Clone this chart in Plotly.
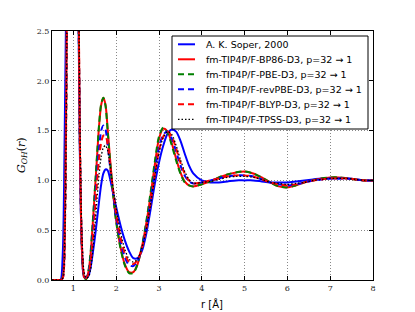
import plotly.graph_objects as go

# ---------------- data ----------------
r = [0.50, 0.55, 0.60, 0.65, 0.70, 0.75, 0.80, 0.85, 0.90, 0.95, 1.00, 1.05, 1.10, 1.15, 1.20, 1.25,
     1.30, 1.35, 1.40, 1.45, 1.50, 1.55, 1.60, 1.65, 1.70, 1.75, 1.80, 1.85, 1.90, 1.95, 2.00,
     2.10, 2.20, 2.30, 2.40, 2.50, 2.60, 2.70, 2.80, 2.90, 3.00, 3.10, 3.20, 3.30, 3.40, 3.50,
     3.60, 3.70, 3.80,
     4.00, 4.20, 4.40, 4.60, 4.80, 5.00, 5.20, 5.40, 5.60, 5.80, 6.00, 6.20, 6.40, 6.60, 6.80,
     7.00, 7.20, 7.40, 7.60, 7.80, 8.00]

soper = [0, 0, 0, 0, 0.0, 0.25, 1.6, 3.5, 5.0, 5.8, 6.0, 5.2, 3.6, 1.3, 0.30, 0.03,
         0.02, 0.04, 0.12, 0.26, 0.42, 0.60, 0.79, 0.96, 1.07, 1.11, 1.10, 1.03, 0.93, 0.83, 0.73,
         0.55, 0.40, 0.29, 0.22, 0.22, 0.29, 0.46, 0.70, 0.96, 1.18, 1.35, 1.47, 1.51, 1.49, 1.40,
         1.27, 1.15, 1.07,
         1.00, 0.98, 0.98, 0.99, 1.00, 1.00, 1.00, 0.99, 0.98, 0.98, 0.98, 0.99, 1.00, 1.01, 1.02,
         1.02, 1.02, 1.02, 1.01, 1.00, 1.00]

bp86 = [0, 0, 0, 0, 0, 0.02, 0.55, 2.9, 6.2, 9.0, 9.8, 8.0, 4.2, 1.4, 0.3, 0.03,
        0.01, 0.08, 0.25, 0.55, 0.88, 1.22, 1.55, 1.76, 1.83, 1.76, 1.52, 1.25, 1.00, 0.78, 0.60,
        0.33, 0.16, 0.08, 0.08, 0.16, 0.33, 0.56, 0.84, 1.15, 1.42, 1.52, 1.49, 1.37, 1.22, 1.08,
        0.99, 0.95, 0.94,
        0.96, 0.99, 1.03, 1.06, 1.08, 1.09, 1.07, 1.03, 0.98, 0.94, 0.93, 0.95, 0.98, 1.00, 1.02,
        1.03, 1.03, 1.02, 1.01, 1.00, 1.00]

pbe = [0, 0, 0, 0, 0, 0.03, 0.6, 2.9, 6.2, 9.0, 9.8, 8.0, 4.2, 1.4, 0.3, 0.03,
       0.01, 0.09, 0.27, 0.57, 0.90, 1.24, 1.56, 1.77, 1.83, 1.75, 1.50, 1.23, 0.98, 0.76, 0.58,
       0.32, 0.15, 0.07, 0.07, 0.16, 0.34, 0.58, 0.87, 1.18, 1.44, 1.53, 1.48, 1.35, 1.20, 1.07,
       0.98, 0.95, 0.94,
       0.96, 0.99, 1.03, 1.06, 1.08, 1.09, 1.07, 1.03, 0.98, 0.94, 0.93, 0.95, 0.98, 1.00, 1.02,
       1.03, 1.03, 1.02, 1.01, 1.00, 1.00]

revpbe = [0, 0, 0, 0, 0, 0.02, 0.55, 2.8, 6.0, 8.8, 9.5, 7.8, 4.1, 1.4, 0.32, 0.04,
          0.02, 0.07, 0.20, 0.45, 0.75, 1.05, 1.32, 1.50, 1.55, 1.51, 1.36, 1.16, 0.96, 0.79, 0.63,
          0.39, 0.23, 0.15, 0.14, 0.19, 0.32, 0.52, 0.79, 1.08, 1.33, 1.46, 1.49, 1.42, 1.29, 1.15,
          1.05, 0.99, 0.97,
          0.98, 1.00, 1.02, 1.04, 1.05, 1.05, 1.04, 1.01, 0.98, 0.96, 0.95, 0.96, 0.98, 1.00, 1.01,
          1.02, 1.02, 1.02, 1.01, 1.00, 1.00]

blyp = [0, 0, 0, 0, 0, 0.02, 0.5, 2.7, 6.0, 8.8, 9.6, 8.0, 4.3, 1.5, 0.35, 0.05,
        0.02, 0.06, 0.18, 0.40, 0.68, 0.97, 1.22, 1.38, 1.45, 1.45, 1.36, 1.19, 1.00, 0.83, 0.67,
        0.43, 0.27, 0.18, 0.16, 0.20, 0.32, 0.51, 0.77, 1.05, 1.30, 1.44, 1.49, 1.44, 1.32, 1.18,
        1.07, 1.00, 0.97,
        0.98, 1.00, 1.02, 1.04, 1.05, 1.05, 1.04, 1.01, 0.98, 0.96, 0.95, 0.96, 0.98, 1.00, 1.01,
        1.02, 1.02, 1.02, 1.01, 1.00, 1.00]

tpss = [0, 0, 0, 0, 0, 0.02, 0.45, 2.6, 5.8, 8.6, 9.6, 8.2, 4.6, 1.7, 0.45, 0.08,
        0.02, 0.03, 0.10, 0.28, 0.52, 0.80, 1.06, 1.24, 1.33, 1.35, 1.30, 1.17, 1.01, 0.86, 0.72,
        0.48, 0.31, 0.21, 0.18, 0.21, 0.32, 0.50, 0.75, 1.03, 1.28, 1.43, 1.49, 1.46, 1.35, 1.21,
        1.09, 1.01, 0.97,
        0.98, 0.99, 1.01, 1.03, 1.04, 1.04, 1.03, 1.01, 0.98, 0.97, 0.96, 0.97, 0.98, 1.00, 1.01,
        1.02, 1.02, 1.02, 1.01, 1.00, 1.00]

labels = ["A. K. Soper, 2000",
          "fm-TIP4P/F-BP86-D3, p=32 → 1",
          "fm-TIP4P/F-PBE-D3, p=32 → 1",
          "fm-TIP4P/F-revPBE-D3, p=32 → 1",
          "fm-TIP4P/F-BLYP-D3, p=32 → 1",
          "fm-TIP4P/F-TPSS-D3, p=32 → 1"]
series = [soper, bp86, pbe, revpbe, blyp, tpss]
colors = ["#0000ff", "#ff0000", "#008000", "#0000ff", "#ff0000", "#000000"]
dashes = ["solid", "solid", "6px,4px", "6px,4px", "6px,4px", "1.5px,2px"]
widths = [2, 2, 2, 2, 2, 1.3]

x_ticks = [1, 2, 3, 4, 5, 6, 7, 8]
y_ticks = [0.0, 0.5, 1.0, 1.5, 2.0, 2.5]

# ---------------- figure ----------------
W, H = 415, 312
OFF = 8                      # page body margin offset
L, R, T, B = 44, 50, 23, 40  # plot area = 321 x 249 px
pw, ph = W - L - R, H - T - B

fig = go.Figure()
for ys, lab, c, d, w in zip(series, labels, colors, dashes, widths):
    fig.add_trace(go.Scatter(x=r, y=ys, mode="lines", name=lab, showlegend=False,
                             line=dict(color=c, dash=d, width=w, shape="spline", smoothing=0.8)))


def px_x(p):
    return (p - OFF - L) / pw


def px_y(p):
    return (H - B - (p - OFF)) / ph


shapes = [dict(type="rect", xref="paper", yref="paper",
               x0=px_x(172), x1=px_x(368), y0=px_y(129), y1=px_y(36),
               line=dict(color="black", width=1), fillcolor="white", layer="above")]
annotations = []
for i, (lab, c, d, w) in enumerate(zip(labels, colors, dashes, widths)):
    yc = 44.3 + 15 * i
    shapes.append(dict(type="line", xref="paper", yref="paper",
                       x0=px_x(178), x1=px_x(195), y0=px_y(yc), y1=px_y(yc),
                       line=dict(color=c, dash=d, width=w), layer="above"))
    annotations.append(dict(xref="paper", yref="paper", x=px_x(204), y=px_y(yc),
                            xanchor="left", yanchor="middle", showarrow=False, text=lab,
                            font=dict(family="DejaVu Sans", size=9.5, color="black")))

annotations.append(dict(xref="paper", yref="paper", x=px_x(22), y=px_y(155), xanchor="center",
                        yanchor="middle", showarrow=False, textangle=-90,
                        text="<i>G</i><sub><i>OH</i></sub>(<i>r</i>)",
                        font=dict(family="DejaVu Serif", size=11, color="black")))
annotations.append(dict(xref="paper", yref="paper", x=px_x(212), y=px_y(304), xanchor="center",
                        yanchor="middle", showarrow=False, text="r [Å]",
                        font=dict(family="DejaVu Sans", size=10, color="black")))

fig.update_layout(
    width=W, height=H,
    margin=dict(l=L, r=R, t=T, b=B),
    paper_bgcolor="white", plot_bgcolor="white",
    shapes=shapes, annotations=annotations,
    xaxis=dict(range=[0.5, 8], tickvals=x_ticks, ticktext=[str(v) for v in x_ticks],
               showgrid=True, gridcolor="#888888", griddash="1px,2px", gridwidth=0.8,
               zeroline=False, showline=True, linecolor="black", linewidth=1, mirror="allticks",
               ticks="inside", ticklen=4, tickcolor="black",
               tickfont=dict(family="DejaVu Serif", size=8, color="#222")),
    yaxis=dict(range=[0, 2.5], tickvals=y_ticks, ticktext=["%.1f" % v for v in y_ticks],
               showgrid=True, gridcolor="#888888", griddash="1px,2px", gridwidth=0.8,
               zeroline=False, showline=True, linecolor="black", linewidth=1, mirror="allticks",
               ticks="inside", ticklen=4, tickcolor="black",
               tickfont=dict(family="DejaVu Serif", size=8, color="#222")),
)

fig.write_html("out.html")
